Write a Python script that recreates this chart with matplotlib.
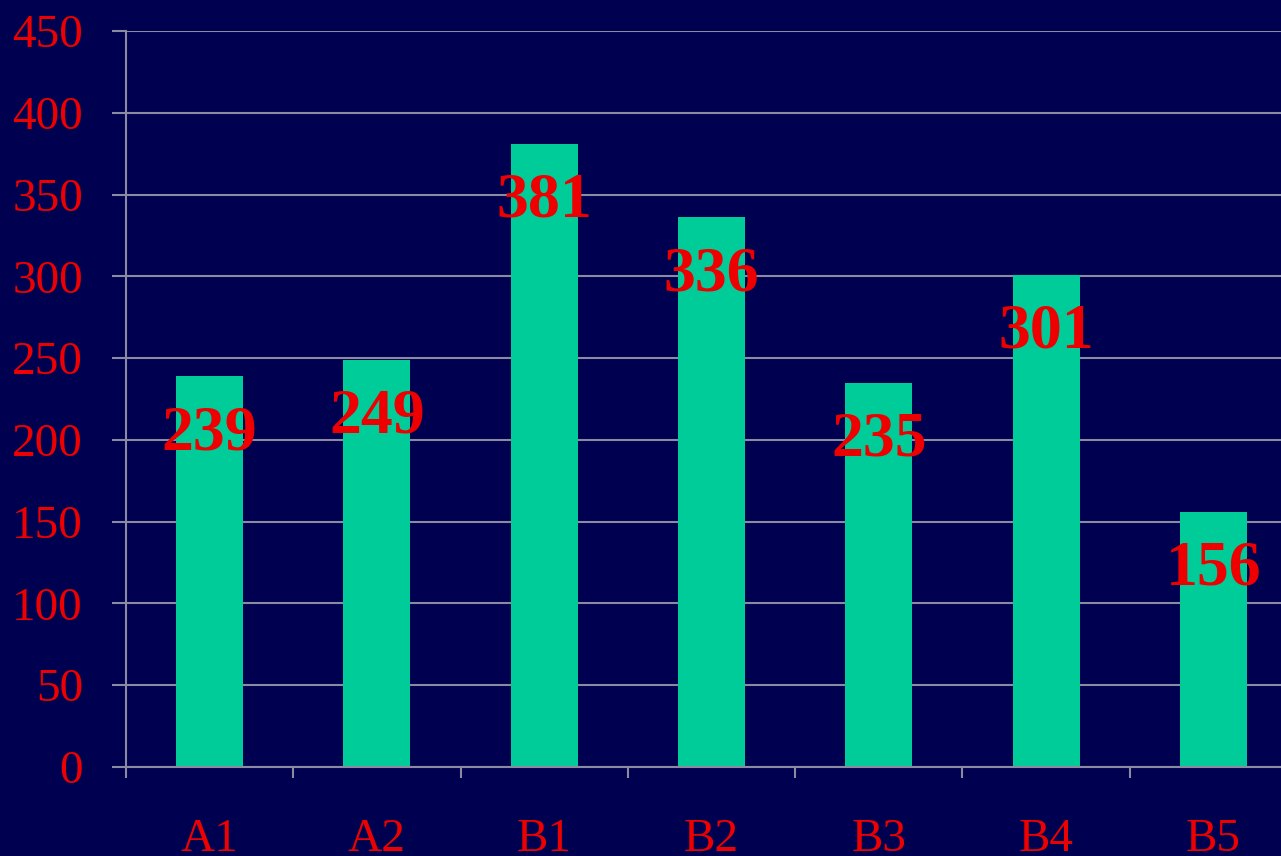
import matplotlib
matplotlib.use("Agg")
import matplotlib.pyplot as plt
import numpy as np

categories = ["A1", "A2", "B1", "B2", "B3", "B4", "B5"]
values = [239, 249, 381, 336, 235, 301, 156]
yticks = [0, 50, 100, 150, 200, 250, 300, 350, 400, 450]

BG = "#000050"
BAR = "#00CC99"
RED = "#EE0000"
GRID = "#8A8AA0"

plt.rcParams['font.family'] = ['Liberation Serif', 'DejaVu Serif']

fig = plt.figure(figsize=(12.81, 8.56), dpi=100)
fig.patch.set_facecolor(BG)
ax = fig.add_axes([126/1281, 89/856, 7*167.3/1281, 736/856])
ax.set_facecolor(BG)

x = np.arange(len(categories))
ax.bar(x, values, width=0.4, color=BAR, zorder=3)

ax.set_xlim(-0.5, len(categories) - 0.5)
ax.set_ylim(0, 450)
ax.set_yticks(yticks)
ax.set_yticklabels([str(t) for t in yticks], color=RED, fontsize=34)
ax.yaxis.grid(True, color=GRID, linewidth=1.5, zorder=0)
ax.tick_params(axis='y', length=10, width=1.5, color=GRID, pad=21, direction='out')

ax.set_xticks(x)
ax.set_xticklabels(categories, color=RED, fontsize=34)
ax.tick_params(axis='x', which='major', length=0, pad=37)
ax.set_xticks(np.arange(-0.5, len(categories), 1.0), minor=True)
ax.tick_params(axis='x', which='minor', length=8, width=1.5, color=GRID, direction='out')

for s in ['top', 'right']:
    ax.spines[s].set_visible(False)
ax.spines['left'].set_color(GRID)
ax.spines['left'].set_linewidth(1.5)
ax.spines['bottom'].set_color(GRID)
ax.spines['bottom'].set_linewidth(1.5)
ax.spines['bottom'].set_zorder(4)

for xi, v in zip(x, values):
    ax.annotate(str(v), xy=(xi, v), xytext=(0, -52.5), textcoords='offset points',
                ha='center', va='baseline', color=RED, fontsize=46, fontweight='bold', zorder=5)

fig.savefig("out.png", dpi=100, facecolor=BG)
